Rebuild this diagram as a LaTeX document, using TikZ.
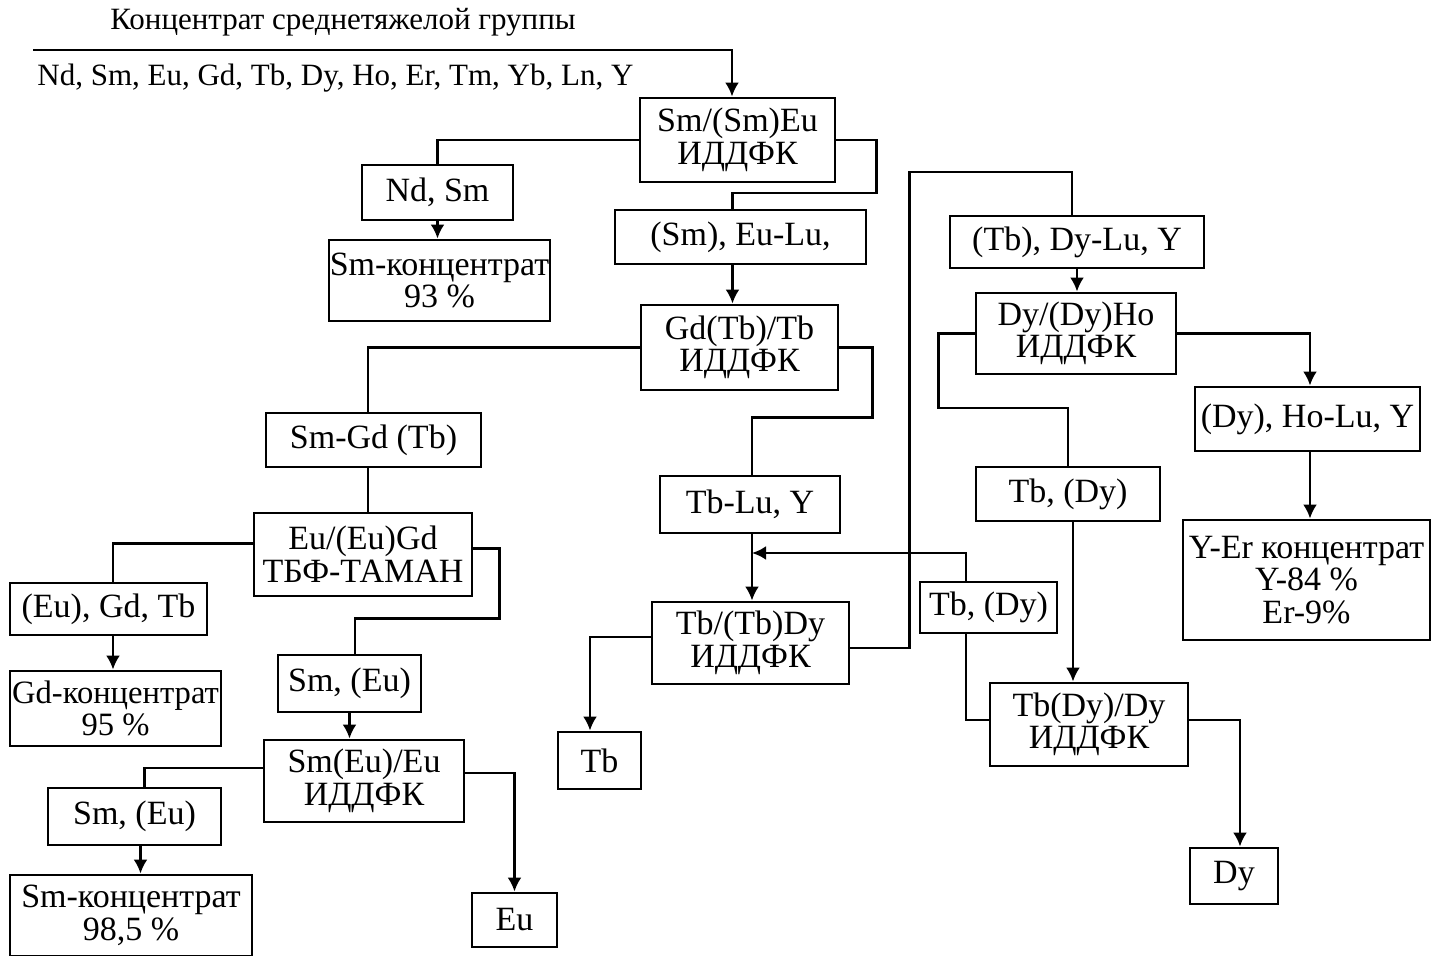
\documentclass[tikz,border=0pt]{standalone}
\usepackage{fontspec}
\setmainfont{Liberation Serif}
\usetikzlibrary{arrows.meta}

\tikzset{
  box/.style={draw, line width=1.4pt, align=center, inner sep=0pt, font=\fontsize{17}{16.3}\selectfont},
  link/.style={line width=1.4pt},
  lbl/.style={inner sep=0pt, font=\fontsize{15.5}{16.2}\selectfont},
}

\begin{document}
\begin{tikzpicture}[>={Latex[length=7pt,width=7pt]}, x=0.5pt, y=-0.5pt]
\useasboundingbox (0,0) rectangle (1432,956);
% input
\node[lbl] (title) at (343,22) {Концентрат среднетяжелой группы};
\node[lbl, anchor=west] (feed) at (37,78) {Nd, Sm, Eu, Gd, Tb, Dy, Ho, Er, Tm, Yb, Ln, Y};
\coordinate (in) at (33,50);

% left branch
\node[box, minimum width=97.5pt, minimum height=42pt] (SmEu) at (737.5,140) {Sm/(Sm)Eu\\ИДДФК};
\node[box, minimum width=75.5pt, minimum height=27.5pt] (NdSm) at (437.5,192.5) {Nd, Sm};
\node[box, minimum width=110.5pt, minimum height=40.5pt] (SmConcA) at (439.5,280.5) {Sm-концентрат\\93 \%};
\node[box, minimum width=125.5pt, minimum height=27pt] (EuLu) at (740.5,237) {(Sm), Eu-Lu,};
\node[box, minimum width=98.5pt, minimum height=42.5pt] (GdTb) at (739.5,347.5) {Gd(Tb)/Tb\\ИДДФК};
\node[box, minimum width=107.5pt, minimum height=27pt] (SmGd) at (373.5,440) {Sm-Gd (Tb)};
\node[box, minimum width=109pt, minimum height=41.5pt] (EuGd) at (363,554.5) {Eu/(Eu)Gd\\ТБФ-ТАМАН};
\node[box, minimum width=98.5pt, minimum height=26pt] (EuGdTb) at (108.5,609) {(Eu), Gd, Tb};
\node[box, minimum width=105.5pt, minimum height=37.5pt, font=\fontsize{16.3}{16.3}\selectfont] (GdConc) at (115.5,708.5) {Gd-концентрат\\95 \%};
\node[box, minimum width=71.5pt, minimum height=28.5pt] (SmEuA) at (349.5,683.5) {Sm, (Eu)};
\node[box, minimum width=100pt, minimum height=41pt] (SmEuEu) at (364,781) {Sm(Eu)/Eu\\ИДДФК};
\node[box, minimum width=86.5pt, minimum height=28.5pt] (SmEuB) at (134.5,816.5) {Sm, (Eu)};
\node[box, minimum width=121pt, minimum height=40.5pt] (SmConcB) at (131,915.5) {Sm-концентрат\\98,5 \%};
\node[box, minimum width=42.5pt, minimum height=27pt] (Eu) at (514.5,920) {Eu};

% middle branch
\node[box, minimum width=90pt, minimum height=28.5pt] (TbLu) at (750,504.5) {Tb-Lu, Y};
\node[box, minimum width=98.5pt, minimum height=41pt] (TbDyA) at (750.5,643) {Tb/(Tb)Dy\\ИДДФК};
\node[box, minimum width=41.5pt, minimum height=28.5pt] (Tb) at (599.5,760.5) {Tb};
\coordinate (join) at (750,553);

% right branch
\node[box, minimum width=127pt, minimum height=26pt] (DyLu) at (1077,242) {(Tb), Dy-Lu, Y};
\node[box, minimum width=100pt, minimum height=40.5pt] (DyHo) at (1076,333.5) {Dy/(Dy)Ho\\ИДДФК};
\node[box, minimum width=112.5pt, minimum height=32pt] (HoLu) at (1307.5,419) {(Dy), Ho-Lu, Y};
\node[box, minimum width=123.5pt, minimum height=60pt] (YEr) at (1306.5,580) {Y-Er концентрат\\Y-84 \%\\Er-9\%};
\node[box, minimum width=92pt, minimum height=27pt] (TbDyB) at (1068,494) {Tb, (Dy)};
\node[box, minimum width=68.5pt, minimum height=25.5pt] (TbDyC) at (988.5,607.5) {Tb, (Dy)};
\node[box, minimum width=99pt, minimum height=41.5pt] (TbDyDy) at (1089,724.5) {Tb(Dy)/Dy\\ИДДФК};
\node[box, minimum width=44pt, minimum height=28pt] (Dy) at (1234,876) {Dy};

% connectors
\draw[link, ->] (in) -| ([xshift=-2.75pt]SmEu.north);
\draw[link] (SmEu.west) -| (NdSm.north);
\draw[link, ->] (NdSm.south) -- (NdSm.south |- SmConcA.north);
\draw[link] (SmEu.east) -- ++(40,0) -- ++(0,53) -| ([xshift=-4pt]EuLu.north);
\draw[link, ->] ([xshift=-4pt]EuLu.south) -- ([xshift=-4pt]EuLu.south |- GdTb.north);
\draw[link] (GdTb.west) -| ([xshift=-2.75pt]SmGd.north);
\draw[link] (GdTb.east) -- ++(33,0) -- ++(0,70) -| ([xshift=1pt]TbLu.north);
\draw[link] ([xshift=-2.75pt]SmGd.south) -- ([xshift=-2.75pt]SmGd.south |- EuGd.north);
\draw[link] ([yshift=5.5pt]EuGd.west) -| ([xshift=2.25pt]EuGdTb.north);
\draw[link] ([yshift=3pt]EuGd.east) -- ++(26,0) -- ++(0,70) -| ([xshift=2.75pt]SmEuA.north);
\draw[link, ->] ([xshift=2.25pt]EuGdTb.south) -- ([xshift=2.25pt]EuGdTb.south |- GdConc.north);
\draw[link, ->] (SmEuA.south) -- (SmEuA.south |- SmEuEu.north);
\draw[link] ([yshift=6.5pt]SmEuEu.west) -| ([xshift=5pt]SmEuB.north);
\draw[link, ->] ([yshift=4pt]SmEuEu.east) -| (Eu.north);
\draw[link, ->] ([xshift=3pt]SmEuB.south) -- ([xshift=3pt]SmEuB.south |- SmConcB.north);
\draw[link, ->] ([xshift=1pt]TbLu.south) -- ([xshift=1pt]TbLu.south |- TbDyA.north);
\draw[link, ->] ([xshift=-11.25pt]TbDyC.north) |- ([xshift=1pt]join);
\draw[link, ->] ([yshift=3pt]TbDyA.west) -| ([xshift=-4.75pt]Tb.north);
\draw[link] ([yshift=-2.5pt]TbDyA.east) -- ++(59,0) -- ++(0,-476) -| ([xshift=-2.5pt]DyLu.north);
\draw[link, ->] (DyLu.south) -- (DyLu.south |- DyHo.north);
\draw[link, ->] (DyHo.east) -| ([xshift=1.25pt]HoLu.north);
\draw[link, ->] ([xshift=1.25pt]HoLu.south) -- ([xshift=1.25pt]HoLu.south |- YEr.north);
\draw[link] (DyHo.west) -- ++(-36,0) -- ++(0,74.5) -| (TbDyB.north);
\draw[link, ->] ([xshift=2.5pt]TbDyB.south) -- ([xshift=2.5pt]TbDyB.south |- TbDyDy.north);
\draw[link] ([yshift=2.25pt]TbDyDy.west) -| ([xshift=-11.25pt]TbDyC.south);
\draw[link, ->] ([yshift=2.25pt]TbDyDy.east) -| ([xshift=3pt]Dy.north);
\end{tikzpicture}
\end{document}
